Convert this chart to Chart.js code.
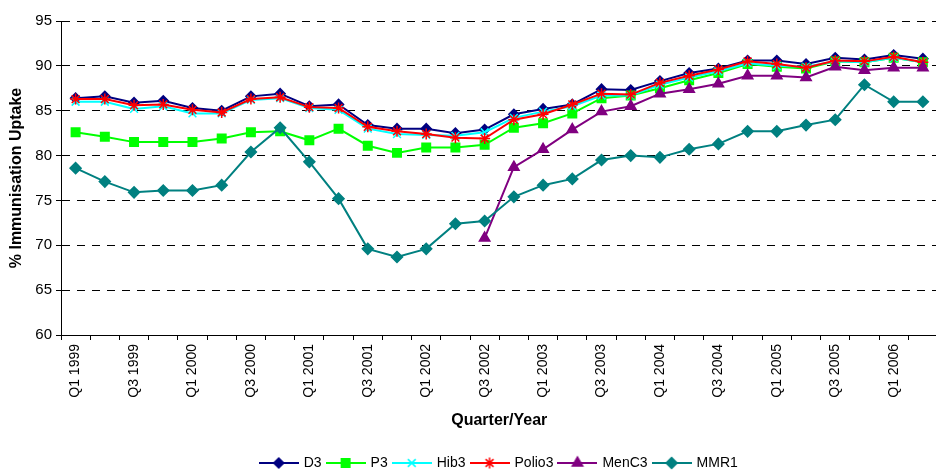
<!DOCTYPE html>
<html>
<head>
<meta charset="utf-8">
<script src="https://cdn.jsdelivr.net/npm/chart.js@4"></script>
<style>
  html, body { margin: 0; padding: 0; overflow: hidden; background: #fff; }
  canvas { display: block; }
</style>
</head>
<body>
<canvas id="chart" width="945" height="480"></canvas>
<script>
const quarters = [
  "Q1 1999", "Q2 1999", "Q3 1999", "Q4 1999",
  "Q1 2000", "Q2 2000", "Q3 2000", "Q4 2000",
  "Q1 2001", "Q2 2001", "Q3 2001", "Q4 2001",
  "Q1 2002", "Q2 2002", "Q3 2002", "Q4 2002",
  "Q1 2003", "Q2 2003", "Q3 2003", "Q4 2003",
  "Q1 2004", "Q2 2004", "Q3 2004", "Q4 2004",
  "Q1 2005", "Q2 2005", "Q3 2005", "Q4 2005",
  "Q1 2006", "Q2 2006"
];

const d3 = [86.4, 86.6, 85.9, 86.1, 85.3, 85.0, 86.6, 86.9, 85.5, 85.7, 83.4, 83.0, 83.0, 82.5, 82.9,
            84.6, 85.2, 85.7, 87.4, 87.3, 88.3, 89.2, 89.7, 90.6, 90.6, 90.2, 90.9, 90.7, 91.2, 90.8];
const p3 = [82.6, 82.1, 81.5, 81.5, 81.5, 81.9, 82.6, 82.7, 81.7, 83.0, 81.1, 80.3, 80.9, 80.9, 81.2,
            83.1, 83.6, 84.7, 86.4, 86.7, 87.5, 88.4, 89.2, 90.2, 89.9, 89.7, 90.5, 90.4, 90.9, 90.4];
const hib3 = [86.0, 86.0, 85.2, 85.5, 84.7, 84.7, 86.2, 86.4, 85.3, 85.1, 83.0, 82.4, 82.3, 82.2, 82.6,
              84.2, 84.9, 85.5, 86.7, 86.7, 87.9, 88.7, 89.4, 90.3, 90.0, 89.9, 90.5, 90.4, 90.9, 90.4];
const polio3 = [86.3, 86.3, 85.6, 85.7, 85.1, 84.8, 86.3, 86.5, 85.4, 85.3, 83.2, 82.7, 82.4, 82.0, 81.9,
                84.0, 84.6, 85.7, 86.9, 86.8, 88.1, 88.9, 89.6, 90.5, 90.2, 89.8, 90.6, 90.5, 91.0, 90.4];
const menC3 = [null, null, null, null, null, null, null, null, null, null, null, null, null, null,
               70.8, 78.7, 80.7, 82.9, 84.9, 85.5, 86.9, 87.4, 88.0, 88.9, 88.9, 88.7, 89.9, 89.5, 89.8, 89.8];
const mmr1 = [78.6, 77.1, 75.9, 76.1, 76.1, 76.7, 80.4, 83.1, 79.3, 75.2, 69.6, 68.7, 69.6, 72.4, 72.7,
              75.4, 76.7, 77.4, 79.5, 80.0, 79.8, 80.7, 81.3, 82.7, 82.7, 83.4, 84.0, 87.9, 86.0, 86.0];

const yTicks = [60, 65, 70, 75, 80, 85, 90, 95];

const FONT = "'Liberation Sans', Arial, sans-serif";

function series(label, data, color, pointStyle, radius, order) {
  return {
    label, data, order,
    borderColor: color,
    backgroundColor: color,
    borderWidth: 2,
    pointStyle,
    pointRadius: radius,
    pointHoverRadius: radius,
    pointBorderWidth: 1.5,
    pointBackgroundColor: color,
    pointBorderColor: color,
    tension: 0,
    spanGaps: false
  };
}

const datasets = [
  series("D3", d3, "#000080", "rectRot", 5, 6),
  series("P3", p3, "#00FF00", "rect", 6, 5),
  series("Hib3", hib3, "#00FFFF", "crossRot", 5.5, 4),
  series("Polio3", polio3, "#FF0000", "star", 5.5, 3),
  series("MenC3", menC3, "#800080", "triangle", 6, 2),
  series("MMR1", mmr1, "#008080", "rectRot", 5.5, 1)
];

// small line + marker picture for each legend entry
function legendImage(ds) {
  const c = document.createElement("canvas");
  c.width = 40;
  c.height = 16;
  const ctx = c.getContext("2d");
  ctx.strokeStyle = ds.borderColor;
  ctx.fillStyle = ds.borderColor;
  ctx.lineWidth = 2;
  ctx.beginPath();
  ctx.moveTo(0, 8);
  ctx.lineTo(40, 8);
  ctx.stroke();
  ctx.lineWidth = ds.pointBorderWidth;
  if (Chart.helpers && Chart.helpers.drawPoint) {
    Chart.helpers.drawPoint(ctx, {
      pointStyle: ds.pointStyle, radius: ds.pointRadius, rotation: 0, borderWidth: ds.pointBorderWidth
    }, 20, 8);
  } else {
    ctx.beginPath();
    ctx.arc(20, 8, 4, 0, Math.PI * 2);
    ctx.fill();
  }
  return c;
}

new Chart(document.getElementById("chart"), {
  type: "line",
  data: { labels: quarters, datasets },
  options: {
    responsive: false,
    animation: false,
    devicePixelRatio: 1,
    layout: { padding: { top: 21, right: 3, left: 0, bottom: 0 } },
    plugins: {
      tooltip: { enabled: false },
      legend: {
        position: "bottom",
        fullSize: false,
        labels: {
          usePointStyle: true,
          pointStyleWidth: 36,
          padding: 6,
          color: "#000",
          font: { family: FONT, size: 14 },
          generateLabels: (chart) => chart.data.datasets.map((ds, i) => ({
            text: ds.label,
            pointStyle: legendImage(ds),
            datasetIndex: i,
            fillStyle: ds.borderColor,
            strokeStyle: ds.borderColor,
            lineWidth: 0,
            hidden: false,
            fontColor: "#000"
          }))
        }
      }
    },
    scales: {
      x: {
        offset: true,
        afterFit: (scale) => { scale.height = 115; },
        grid: {
          offset: true,
          drawOnChartArea: false,
          drawTicks: true,
          tickLength: 5,
          color: "#000"
        },
        border: { display: true, color: "#000", width: 1 },
        ticks: {
          autoSkip: false,
          maxRotation: 90,
          minRotation: 90,
          padding: 4,
          color: "#000",
          font: { family: FONT, size: 14 },
          callback: function (value, index) {
            return index % 2 === 0 ? this.getLabelForValue(value) : "";
          }
        },
        title: {
          display: true,
          text: "Quarter/Year",
          color: "#000",
          font: { family: FONT, size: 16, weight: "bold" },
          padding: { top: 0, bottom: 20 }
        }
      },
      y: {
        min: yTicks[0],
        max: yTicks[yTicks.length - 1],
        afterFit: (scale) => { scale.width = 61; },
        afterBuildTicks: (scale) => { scale.ticks = yTicks.map(v => ({ value: v })); },
        grid: {
          color: "#000",
          lineWidth: 1,
          drawTicks: true,
          tickLength: 5,
          tickBorderDash: []
        },
        border: { display: true, color: "#000", width: 1, dash: [8, 7] },
        ticks: {
          padding: 4,
          color: "#000",
          font: { family: FONT, size: 15 }
        },
        title: {
          display: true,
          text: "% Immunisation Uptake",
          color: "#000",
          font: { family: FONT, size: 16, weight: "bold" },
          padding: { top: 7, bottom: 0 }
        }
      }
    }
  }
});
</script>
</body>
</html>
